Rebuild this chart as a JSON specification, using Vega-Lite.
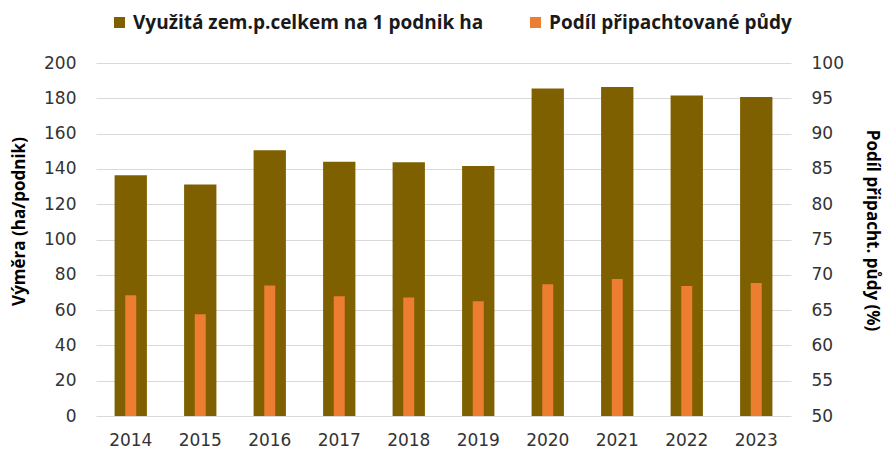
{
  "$schema": "https://vega.github.io/schema/vega-lite/v6.json",
  "width": 695,
  "height": 353,
  "autosize": {"type": "none"},
  "padding": {"left": 96, "top": 63, "right": 92, "bottom": 34},
  "config": {"view": {"stroke": null}, "font": "Open Sans"},
  "data": {
    "values": [
      {"year": "2014", "vymera": 136.4, "podil": 67.1},
      {"year": "2015", "vymera": 131.1, "podil": 64.4},
      {"year": "2016", "vymera": 150.6, "podil": 68.5},
      {"year": "2017", "vymera": 144.1, "podil": 66.95},
      {"year": "2018", "vymera": 143.8, "podil": 66.8},
      {"year": "2019", "vymera": 141.7, "podil": 66.25},
      {"year": "2020", "vymera": 185.5, "podil": 68.65},
      {"year": "2021", "vymera": 186.4, "podil": 69.4},
      {"year": "2022", "vymera": 181.6, "podil": 68.4},
      {"year": "2023", "vymera": 180.7, "podil": 68.85}
    ]
  },
  "encoding": {
    "x": {
      "field": "year",
      "type": "ordinal",
      "scale": {"paddingInner": 0, "paddingOuter": 0},
      "axis": {
        "title": null,
        "labelAngle": 0,
        "ticks": false,
        "domain": false,
        "grid": false,
        "labelFont": "DejaVu Sans",
        "labelFontSize": 17,
        "labelColor": "#333333",
        "labelPadding": 16
      }
    }
  },
  "layer": [
    {
      "mark": {"type": "bar", "width": {"band": 0.465}},
      "encoding": {
        "y": {
          "field": "vymera",
          "type": "quantitative",
          "scale": {"domain": [0, 200]},
          "axis": {
            "title": "Výměra (ha/podnik)",
            "values": [0, 20, 40, 60, 80, 100, 120, 140, 160, 180, 200],
            "grid": true,
            "gridColor": "#D9D9D9",
            "gridWidth": 1,
            "domain": false,
            "ticks": false,
            "labelFont": "DejaVu Sans",
            "labelFontSize": 17,
            "labelColor": "#333333",
            "labelPadding": 20,
            "titleFont": "Open Sans",
            "titleFontSize": 17,
            "titleFontWeight": "bold",
            "titleColor": "#000000",
            "titleX": -77,
            "titleY": 158,
            "titleBaseline": "middle",
            "titleAlign": "center"
          }
        },
        "color": {
          "datum": "Využitá zem.p.celkem na 1 podnik ha",
          "scale": {"range": ["#7F6000"]},
          "legend": {
            "orient": "none",
            "legendX": 14,
            "legendY": -50,
            "title": null,
            "padding": 0,
            "symbolType": "square",
            "symbolSize": 121,
            "symbolStrokeWidth": 0,
            "labelFont": "Open Sans",
            "labelFontSize": 19,
            "labelFontWeight": "bold",
            "labelColor": "#1a1a1a",
            "labelOffset": 4,
            "labelLimit": 500
          }
        }
      }
    },
    {
      "mark": {"type": "bar", "width": {"band": 0.158}},
      "encoding": {
        "y": {
          "field": "podil",
          "type": "quantitative",
          "scale": {"domain": [50, 100], "zero": false},
          "axis": {
            "orient": "right",
            "title": "Podíl připacht. půdy (%)",
            "values": [50, 55, 60, 65, 70, 75, 80, 85, 90, 95, 100],
            "grid": false,
            "domain": false,
            "ticks": false,
            "labelFont": "DejaVu Sans",
            "labelFontSize": 17,
            "labelColor": "#333333",
            "labelPadding": 20,
            "titleFont": "Open Sans",
            "titleFontSize": 17,
            "titleFontWeight": "bold",
            "titleColor": "#000000",
            "titleAngle": 90,
            "titleX": 80,
            "titleY": 167,
            "titleBaseline": "middle",
            "titleAlign": "center"
          }
        },
        "y2": {"datum": 50},
        "color": {
          "datum": "Podíl připachtované půdy",
          "scale": {"range": ["#ED7D31"]},
          "legend": {
            "orient": "none",
            "legendX": 430,
            "legendY": -50,
            "title": null,
            "padding": 0,
            "symbolType": "square",
            "symbolSize": 121,
            "symbolStrokeWidth": 0,
            "labelFont": "Open Sans",
            "labelFontSize": 19,
            "labelFontWeight": "bold",
            "labelColor": "#1a1a1a",
            "labelOffset": 4,
            "labelLimit": 500
          }
        }
      }
    }
  ],
  "resolve": {"scale": {"y": "independent", "color": "independent"}}
}
